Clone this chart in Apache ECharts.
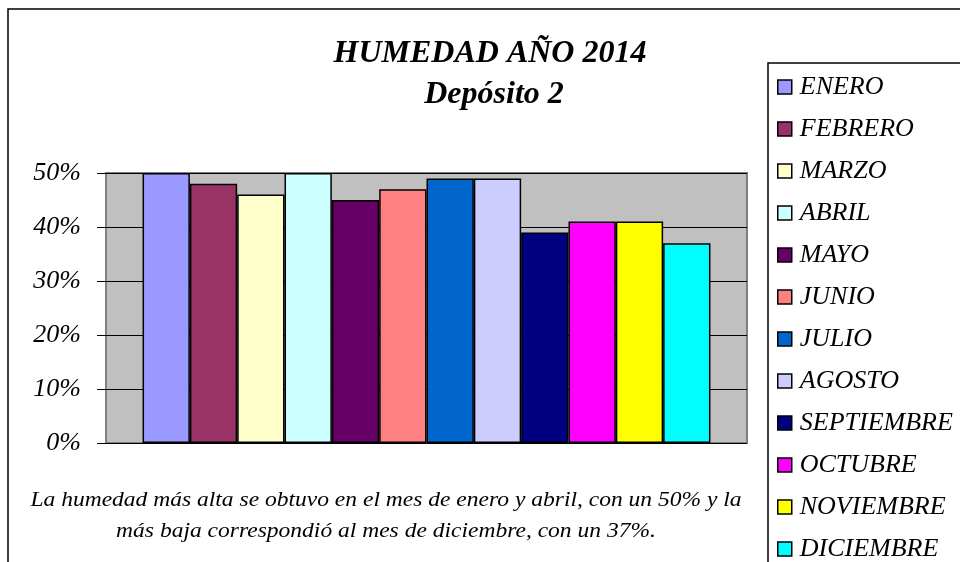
<!DOCTYPE html>
<html>
<head>
<meta charset="utf-8">
<script src="https://cdn.jsdelivr.net/npm/echarts@6/dist/echarts.min.js"></script>
<style>
  html, body { margin: 0; padding: 0; background: #fff; }
  #chart { width: 960px; height: 562px; }
</style>
</head>
<body>
<div id="chart"></div>
<script>
// datos de humedad por mes (%)
const meses = ['ENERO', 'FEBRERO', 'MARZO', 'ABRIL', 'MAYO', 'JUNIO', 'JULIO', 'AGOSTO', 'SEPTIEMBRE', 'OCTUBRE', 'NOVIEMBRE', 'DICIEMBRE']
const humedad = [50, 48, 46, 50, 45, 47, 49, 49, 39, 41, 41, 37]
const colores = ['#9999FF', '#993366', '#FFFFCC', '#CCFFFF', '#660066', '#FF8080', '#0066CC', '#CCCCFF', '#000080', '#FF00FF', '#FFFF00', '#00FFFF']
const categorias = ['']

const serif = '"Liberation Serif", "Times New Roman", serif'

const myChart = echarts.init(document.getElementById('chart'))

const seriesData = []
for (let i = 0; i < meses.length; i++) {
  seriesData.push({
    name: meses[i],
    type: 'bar',
    barGap: '0%',
    barCategoryGap: '11.4%',
    itemStyle: { color: colores[i], borderColor: '#000', borderWidth: 1.5 },
    data: [humedad[i]]
  })
}

myChart.setOption({
  animation: false,
  color: colores,
  grid: {
    left: 106,
    right: 213,
    top: 173,
    bottom: 119,
    show: true,
    backgroundColor: '#C0C0C0',
    borderColor: '#808080',
    borderWidth: 2
  },
  legend: {
    data: meses,
    orient: 'vertical',
    left: 777,
    top: 74,
    height: 540,
    padding: 0,
    itemWidth: 14,
    itemHeight: 14,
    itemGap: 16,
    icon: 'rect',
    itemStyle: { borderColor: '#000', borderWidth: 1.5 },
    textStyle: {
      fontFamily: serif,
      fontStyle: 'italic',
      fontSize: 26,
      color: '#000',
      padding: [0, 0, 0, 3]
    }
  },
  xAxis: {
    type: 'category',
    data: categorias,
    axisLine: { show: false },
    axisTick: { show: false },
    axisLabel: { show: false },
    splitLine: { show: false }
  },
  yAxis: {
    type: 'value',
    min: 0,
    max: 50,
    interval: 10,
    axisLine: { show: false },
    axisTick: { show: true, length: 9, lineStyle: { color: '#000', width: 1 } },
    axisLabel: {
      formatter: '{value}%',
      margin: 25,
      fontFamily: serif,
      fontStyle: 'italic',
      fontSize: 26,
      color: '#000'
    },
    splitLine: { show: true, lineStyle: { color: '#000', width: 1 } }
  },
  graphic: [
    // marco exterior
    { type: 'rect', shape: { x: 8, y: 9, width: 1000, height: 600 }, style: { fill: 'none', stroke: '#000', lineWidth: 1.5 }, silent: true },
    // marco de la leyenda
    { type: 'rect', shape: { x: 768, y: 63, width: 300, height: 600 }, style: { fill: 'none', stroke: '#000', lineWidth: 1.5 }, silent: true },
    {
      type: 'text', x: 490, y: 54,
      style: { text: 'HUMEDAD AÑO 2014', font: 'italic bold 32px ' + serif, fill: '#000', textAlign: 'center', textVerticalAlign: 'middle' }
    },
    {
      type: 'text', x: 494, y: 95,
      style: { text: 'Depósito 2', font: 'italic bold 32px ' + serif, fill: '#000', textAlign: 'center', textVerticalAlign: 'middle' }
    },
    {
      type: 'text', x: 386, y: 500, scaleX: 1.12,
      style: { text: 'La humedad más alta se obtuvo en el mes de enero y abril, con un 50% y la', font: 'italic 21px ' + serif, fill: '#000', textAlign: 'center', textVerticalAlign: 'middle' }
    },
    {
      type: 'text', x: 386, y: 531, scaleX: 1.12,
      style: { text: 'más baja correspondió al mes de diciembre, con un 37%.', font: 'italic 21px ' + serif, fill: '#000', textAlign: 'center', textVerticalAlign: 'middle' }
    }
  ],
  series: seriesData
})
</script>
</body>
</html>
